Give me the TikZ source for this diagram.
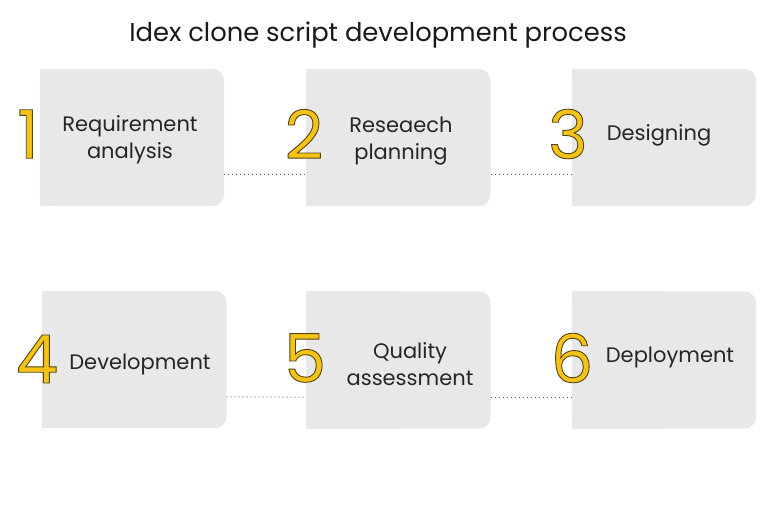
\documentclass[tikz,border=0pt]{standalone}
\usepackage{fontspec}
\setmainfont{Poppins}
\definecolor{boxgray}{HTML}{E8E8E8}
\definecolor{digityellow}{HTML}{F5C317}
\definecolor{dotgray}{HTML}{5A5A5A}
\newcommand\outlined[1]{\special{pdf:literal direct 2 Tr 0.9 w 0.33 0.27 0.08 RG}#1\special{pdf:literal direct 0 Tr}}
\tikzset{
  stepbox/.style={rectangle,minimum width=184pt,minimum height=137pt,inner sep=0pt},
  steptext/.style={align=center,font=\fontsize{21}{27}\selectfont,text=black!85},
  stepnum/.style={inner sep=0pt,font=\fontsize{67}{67}\selectfont,text=digityellow},
  link/.style={dotgray,line width=0.8pt,dash pattern=on 0.8pt off 3.2pt}
}
\begin{document}
\begin{tikzpicture}[x=1pt,y=-1pt]
  % draw background
  \fill[white] (0,0) rectangle (770,513);
  % draw title
  \node at(378,35)[font=\fontsize{25.8}{30}\selectfont,text=black!90](head){Idex clone script development process};
  % draw boxes
  \node at(132,137.5)[stepbox](req){};
  \node at(398.5,137.5)[stepbox](res){};
  \node at(664,137.5)[stepbox](des){};
  \node at(134.5,359.5)[stepbox](dev){};
  \node at(398.5,360)[stepbox](qua){};
  \node at(664,360)[stepbox](dep){};
  % fill boxes, right corners rounded
  \foreach \b in {req,res,des,dev,qua,dep}{
    \fill[boxgray,rounded corners=12pt] (\b.north west) rectangle (\b.south east);
    \fill[boxgray] (\b.north west) rectangle (\b.south);
  }
  % draw dotted links
  \draw[link](req.-22) -- (res.202);
  \draw[link](res.-22) -- (des.202);
  \draw[link](dev.-22) -- (qua.202);
  \draw[link](qua.-22) -- (dep.202);
  % draw step texts
  \node at(130,140)[steptext](reqtext){Requirement\\analysis};
  \node at(401,141)[steptext](restext){Reseaech\\planning};
  \node at(659,135)[steptext](destext){Designing};
  \node at(140,364)[steptext](devtext){Development};
  \node at(410,364)[steptext](quatext){Quality\\assessment};
  \node at(670,357)[steptext](deptext){Deployment};
  % draw step numbers
  \node at(28,134)[stepnum](n1){\outlined{1}};
  \node at(304,134)[stepnum](n2){\outlined{2}};
  \node at(568,134)[stepnum](n3){\outlined{3}};
  \node at(37,359)[stepnum](n4){\outlined{4}};
  \node at(305,358)[stepnum](n5){\outlined{5}};
  \node at(572,358)[stepnum](n6){\outlined{6}};
\end{tikzpicture}
\end{document}
